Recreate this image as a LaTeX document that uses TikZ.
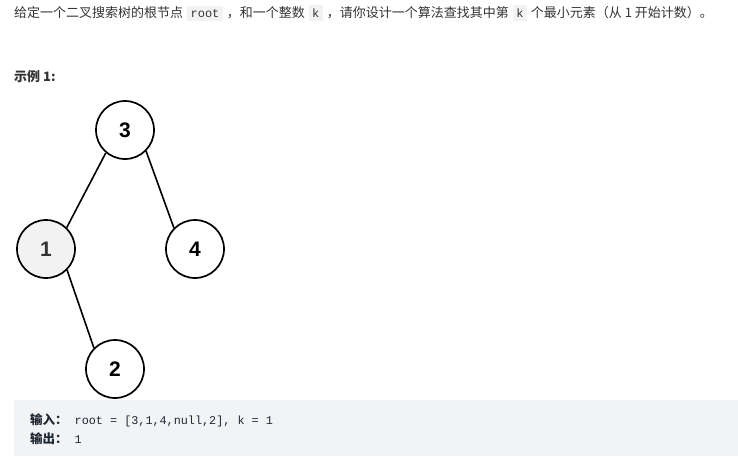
\documentclass[tikz,border=0pt]{standalone}
\usepackage{fontspec}
\setmainfont{Noto Sans CJK SC}
\setmonofont{Liberation Mono}
\newfontfamily\numfont{Liberation Sans}
\usepackage{xcolor}
\usepackage{tikz}

\definecolor{codebg}{HTML}{F2F3F5}
\definecolor{txtgray}{HTML}{333333}
\definecolor{codetxt}{HTML}{1F2733}
\definecolor{leafgray}{HTML}{F2F2F2}

\newcommand{\inlinecode}[1]{\hspace{1pt}{\setlength{\fboxsep}{3.5pt}\colorbox{codebg}{\ttfamily\fontsize{12}{12}\selectfont #1}}\hspace{1pt}}

\begin{document}
\begin{tikzpicture}[x=1pt,y=1pt,
    treenode/.style={circle,draw,line width=1.7pt,minimum size=58pt,inner sep=0pt,
        font=\numfont\bfseries\fontsize{21}{21}\selectfont},
    treeedge/.style={line width=1.6pt},
    plaintext/.style={inner sep=0pt,anchor=base west,text=txtgray}]
                    \useasboundingbox (0,0) rectangle (738,-456);

                    % question line
                    \node[plaintext,font=\fontsize{13}{15}\selectfont] (question) at (14,-17.5)
                        {给定一个二叉搜索树的根节点 \inlinecode{root} ，和一个整数 \inlinecode{k} ，请你设计一个算法查找其中第 \inlinecode{k} 个最小元素（从 1 开始计数）。};
                    \node[plaintext,font=\bfseries\fontsize{13}{15}\selectfont] (example) at (14,-81) {示例 1:};

                    % tree
                    \node[treenode] (n3) at (125,-130) {3};
                    \node[treenode,fill=leafgray,text=txtgray] (n1) at (46,-249) {1};
                    \node[treenode] (n4) at (195,-249) {4};
                    \node[treenode] (n2) at (115,-369) {2};

                    \draw[treeedge] (n3.230) -- (n1.46);
                    \draw[treeedge] (n3.315) -- (n4.135);
                    \draw[treeedge] (n1.315) -- (n2.135);

                    % input / output box
                    \node[fill=codebg,anchor=north west,minimum width=724pt,minimum height=56pt,inner sep=0pt] (samplebox) at (14,-400) {};
                    \node[plaintext,text=codetxt] (input) at (30,-424)
                        {{\bfseries\fontsize{12.5}{14}\selectfont 输入：}\hspace{7pt}{\ttfamily\fontsize{11.8}{14}\selectfont root = [3,1,4,null,2], k = 1}};
                    \node[plaintext,text=codetxt] (output) at (30,-443)
                        {{\bfseries\fontsize{12.5}{14}\selectfont 输出：}\hspace{7pt}{\ttfamily\fontsize{11.8}{14}\selectfont 1}};
                \end{tikzpicture}
\end{document}
